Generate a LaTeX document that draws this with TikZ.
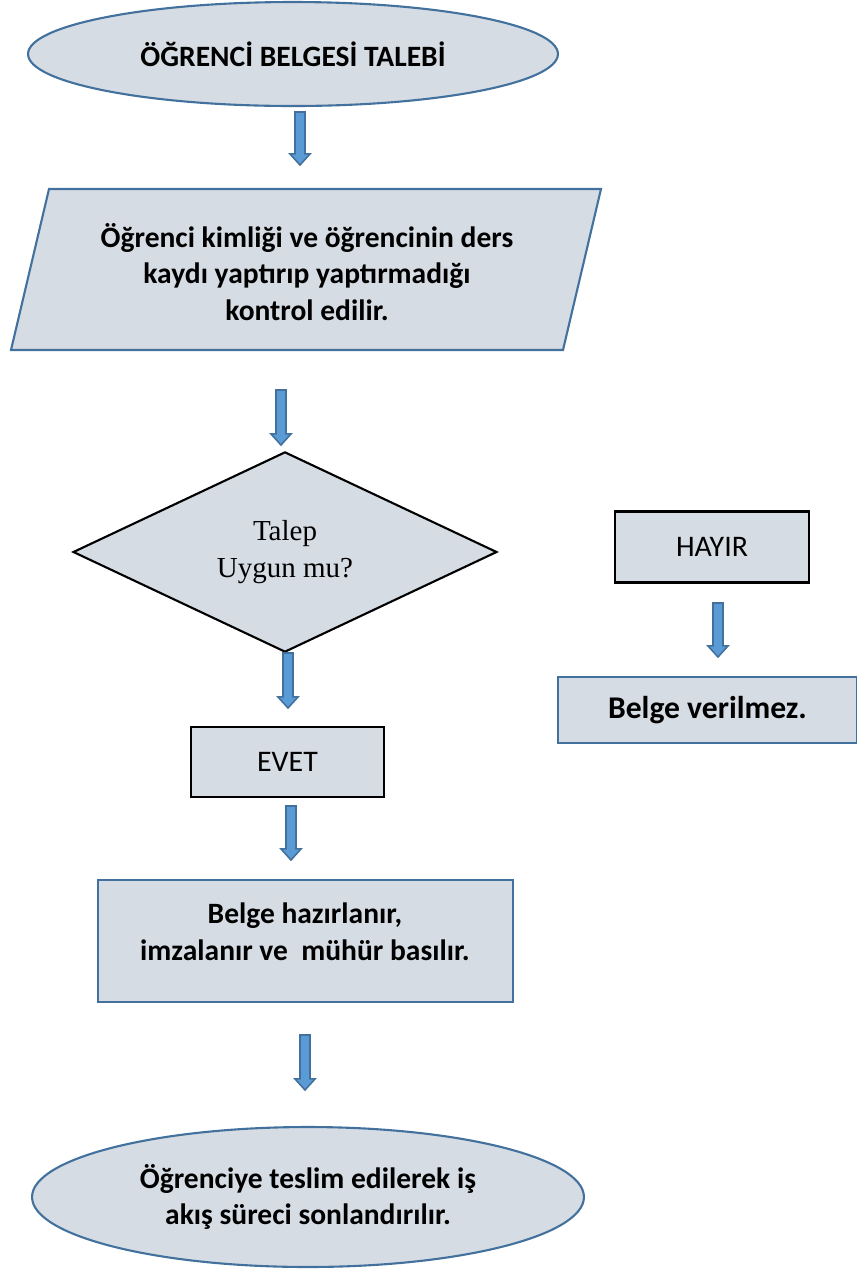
\documentclass[tikz,border=0pt]{standalone}
\usepackage{fontspec}
\setmainfont{Carlito}
\newfontfamily\timesfont{Liberation Serif}
\usetikzlibrary{shapes.geometric,calc}

\definecolor{boxfill}{RGB}{214,220,228}
\definecolor{boxline}{RGB}{65,113,156}
\definecolor{arrowfill}{RGB}{91,155,213}

\tikzset{
  bluebox/.style={draw=boxline, fill=boxfill, line width=1.2pt, inner sep=0pt},
  blackbox/.style={draw=black, fill=boxfill, line width=1.2pt, inner sep=0pt},
  boldtext/.style={font=\bfseries\fontsize{16.8}{20.8}\selectfont, align=center},
  plaintext/.style={font=\fontsize{17}{21}\selectfont, align=center},
  flowarrow/.style={fill=arrowfill, draw=boxline, line width=0.9pt, line join=miter}
}

\newcommand{\flowarrow}[2]{%
  \filldraw[flowarrow] let \p1=(#1), \p2=(#2) in
    (\x1-2.85pt,\y1) -- (\x1+2.85pt,\y1) -- (\x1+2.85pt,\y2+6.3pt)
    -- (\x1+5.7pt,\y2+6.3pt) -- (\x2,\y2) -- (\x1-5.7pt,\y2+6.3pt)
    -- (\x1-2.85pt,\y2+6.3pt) -- cycle;}

\begin{document}
\begin{tikzpicture}[x=0.02cm,y=-0.02cm]
\useasboundingbox (0,0) rectangle (857,1276);

\node[bluebox, ellipse, minimum width=10.6cm, minimum height=2.08cm, boldtext] (talep) at (293,54) {ÖĞRENCİ BELGESİ TALEBİ};

\filldraw[bluebox] (49,189) -- (601,189) -- (563,350) -- (11,350) -- cycle;
\node[boldtext] (kontrol) at (307,272) {Öğrenci kimliği ve öğrencinin ders\\kaydı yaptırıp yaptırmadığı\\kontrol edilir.};

\node[blackbox, diamond, minimum width=8.48cm, minimum height=3.92cm, font=\timesfont\fontsize{16.5}{21.5}\selectfont, align=center] (uygun) at (285,552) {Talep\\Uygun mu?};

\node[blackbox, minimum width=3.86cm, minimum height=1.4cm, plaintext] (evet) at (287.5,762) {EVET};
\node[blackbox, minimum width=3.88cm, minimum height=1.42cm, plaintext] (hayir) at (712,547) {HAYIR};

\node[bluebox, minimum width=5.98cm, minimum height=1.32cm, boldtext, font=\bfseries\fontsize{18}{22}\selectfont] (verilmez) at (707.5,710) {Belge verilmez.};

\node[bluebox, minimum width=8.3cm, minimum height=2.44cm] (hazir) at (305.5,941) {};
\node[boldtext] (hazirtext) at (305,932) {Belge hazırlanır,\\imzalanır ve~ mühür basılır.};

\node[bluebox, ellipse, minimum width=11.04cm, minimum height=2.8cm, boldtext] (teslim) at (308,1197) {Öğrenciye teslim edilerek iş\\akış süreci sonlandırılır.};

\coordinate (a1) at (300,112);  \coordinate (b1) at (300,165);
\coordinate (a2) at (281,390);  \coordinate (b2) at (281,445);
\coordinate (a3) at (288,653);  \coordinate (b3) at (288,708);
\coordinate (a4) at (291,806);  \coordinate (b4) at (291,860);
\coordinate (a5) at (305,1035); \coordinate (b5) at (305,1090);
\coordinate (a6) at (718,603);  \coordinate (b6) at (718,657);

\flowarrow{a1}{b1}
\flowarrow{a2}{b2}
\flowarrow{a3}{b3}
\flowarrow{a4}{b4}
\flowarrow{a5}{b5}
\flowarrow{a6}{b6}

\end{tikzpicture}
\end{document}
